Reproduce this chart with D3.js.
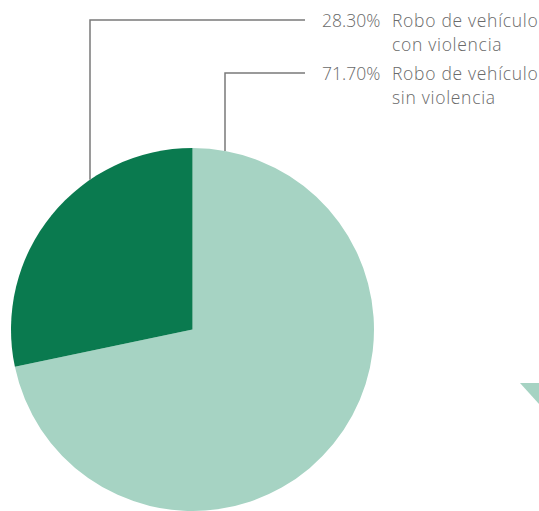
<!DOCTYPE html>
<html>
<head>
<meta charset="utf-8">
<script src="https://cdn.jsdelivr.net/npm/d3@7"></script>
<style>
  html, body { margin: 0; padding: 0; background: #fff; }
  svg { display: block; }
  text { font-family: "Open Sans", Lato, sans-serif; font-weight: 300; fill: #6a6a6a; }
</style>
</head>
<body>
<svg id="chart" width="539" height="511"></svg>
<script>
const categories = ["Robo de vehículo con violencia", "Robo de vehículo sin violencia"];
const labelLines = [["Robo de vehículo", "con violencia"], ["Robo de vehículo", "sin violencia"]];
const values = [28.30, 71.70];
const percentLabels = ["28.30%", "71.70%"];
const colors = ["#0a7a4f", "#a6d3c3"];

const svg = d3.select("#chart");
const cx = 192.5, cy = 329.5, r = 181.5;

const pie = d3.pie().sort(null).value(d => d.v)
  .startAngle(0).endAngle(2 * Math.PI);
const data = [{i: 1, v: values[1]}, {i: 0, v: values[0]}];
const arcs = pie(data);
const arc = d3.arc().innerRadius(0).outerRadius(r);

const g = svg.append("g").attr("transform", `translate(${cx},${cy})`);
g.selectAll("path").data(arcs).join("path")
  .attr("d", arc)
  .attr("fill", d => colors[d.data.i]);

const labelY = [20, 73];
const leaderX = [90, 225];
const lineEndX = 305;
const fs = 17.5;
categories.forEach((c, i) => {
  const dx = leaderX[i] - cx;
  const yEdge = cy - Math.sqrt(r * r - dx * dx);
  svg.append("path")
    .attr("d", `M${leaderX[i]},${yEdge}V${labelY[i]}H${lineEndX}`)
    .attr("fill", "none").attr("stroke", "#7a7a7a").attr("stroke-width", 1.5);
  svg.append("text").attr("x", 322).attr("y", labelY[i] + 6.5)
    .attr("font-size", fs).text(percentLabels[i]);
  const t = svg.append("text").attr("x", 392).attr("y", labelY[i] + 6.5)
    .attr("font-size", fs).attr("letter-spacing", 0.7);
  labelLines[i].forEach((ln, k) => {
    t.append("tspan").attr("x", 392).attr("dy", k === 0 ? 0 : 24).text(ln);
  });
});

svg.append("path")
  .attr("d", "M520,383L539,383L539,404Z")
  .attr("fill", colors[1]);
</script>
</body>
</html>
